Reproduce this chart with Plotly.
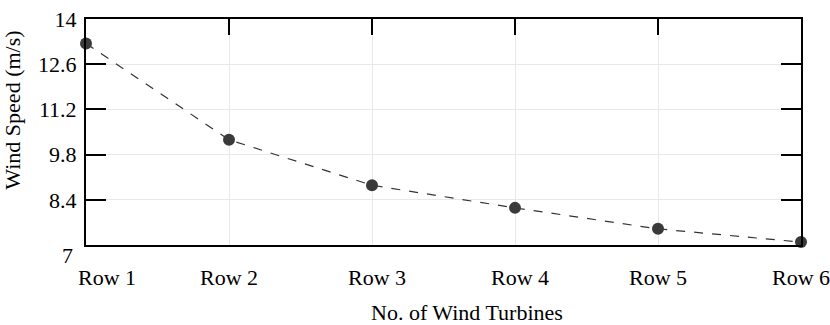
import plotly.graph_objects as go

categories = ["Row 1", "Row 2", "Row 3", "Row 4", "Row 5", "Row 6"]
wind_speed = [13.24, 10.26, 8.85, 8.15, 7.50, 7.09]
y_ticks = [7, 8.4, 9.8, 11.2, 12.6, 14]
y_tick_labels = ["", "8.4", "9.8", "11.2", "12.6", "14"]

FONT = "Liberation Serif"
xs = list(range(len(categories)))

fig = go.Figure()
fig.add_trace(go.Scatter(
    x=xs, y=wind_speed, mode="lines+markers",
    line=dict(color="#333333", width=1.2, dash="dash"),
    marker=dict(size=12, color="#3a3a3a"),
    cliponaxis=False, showlegend=False, hoverinfo="skip",
))
# invisible trace so the top axis (ticks only) is drawn
fig.add_trace(go.Scatter(
    x=xs, y=wind_speed, xaxis="x2", mode="markers",
    marker=dict(opacity=0), showlegend=False, hoverinfo="skip",
))

fig.update_layout(
    width=830, height=325,
    margin=dict(l=86, r=29, t=7, b=80),
    paper_bgcolor="white", plot_bgcolor="white",
    font=dict(family=FONT, size=22, color="black"),
    xaxis=dict(
        range=[0, 5], tickvals=xs, showticklabels=False, ticks="",
        showgrid=True, gridcolor="#e8e8e8", gridwidth=1,
        showline=True, linecolor="black", linewidth=2, mirror=True,
        zeroline=False,
    ),
    xaxis2=dict(
        range=[0, 5], tickvals=xs, overlaying="x", side="top",
        showticklabels=False, ticks="inside", ticklen=16, tickwidth=2,
        tickcolor="black", showgrid=False, showline=False, zeroline=False,
    ),
    yaxis=dict(
        range=[7, 14], tickvals=y_ticks, ticktext=y_tick_labels,
        ticks="inside", ticklen=20, tickwidth=2, tickcolor="black",
        showgrid=True, gridcolor="#e8e8e8", gridwidth=1,
        showline=True, linecolor="black", linewidth=2, mirror="ticks",
        zeroline=False, ticklabelstandoff=3, ticklabeloverflow="allow",
        tickfont=dict(family=FONT, size=22),
    ),
)

# lowest y tick label sits slightly below the axis line in the reference
fig.add_annotation(
    x=0, y=y_ticks[0], xref="paper", yref="y", text="7", showarrow=False,
    xanchor="right", yanchor="middle", xshift=-11, yshift=-10,
    font=dict(family=FONT, size=22),
)

shifts = [21, 0, 5, 5, 0, 0]
for i, (c, s) in enumerate(zip(categories, shifts)):
    fig.add_annotation(
        x=i, y=0, xref="x", yref="paper", text=c, showarrow=False,
        xanchor="center", yanchor="top", yshift=-18, xshift=s,
        font=dict(family=FONT, size=22),
    )

fig.add_annotation(
    x=(467 - 86) / 715, y=0, xref="paper", yref="paper",
    text="No. of Wind Turbines", showarrow=False,
    xanchor="center", yanchor="top", yshift=-53,
    font=dict(family=FONT, size=22),
)
fig.add_annotation(
    x=(13 - 86) / 715, y=(245 - 103.5) / 238, xref="paper", yref="paper",
    text="Wind Speed (m/s)", showarrow=False, textangle=-90,
    xanchor="center", yanchor="middle",
    font=dict(family=FONT, size=22),
)

fig.write_html(
    "out.html",
    config={"displayModeBar": False},
    post_script="document.body.style.margin='0px';document.body.style.overflow='hidden';",
)
